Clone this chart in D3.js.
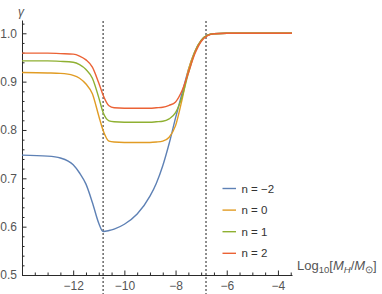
<!DOCTYPE html>
<html>
<head>
<meta charset="utf-8">
<script src="https://cdn.jsdelivr.net/npm/d3@7"></script>
<style>
  body { margin: 0; background: #fff; }
  svg { display: block; font-family: "Liberation Sans", Arial, sans-serif; }
  .axis text { fill: #555; font-size: 12px; font-family: "Liberation Sans", Arial, sans-serif; }
  .axis path, .axis line { stroke: #2a2a2a; }
</style>
</head>
<body>
<svg id="chart" width="382" height="294"></svg>
<script>
// log10 mass grid shared by every curve
const logM = [-14, -13, -12.5, -12, -11.75, -11.5, -11.25, -11, -10.83, -10.6, -10.4, -10, -9.5, -9,
  -8.75, -8.5, -8.25, -8, -7.75, -7.5, -7.25, -7, -6.75, -6.5, -6, -5, -4, -3.45];

const gammaNm2 = [0.748, 0.746, 0.742, 0.728, 0.711, 0.688, 0.650, 0.607, 0.590, 0.592, 0.595, 0.605, 0.626, 0.663,
  0.690, 0.726, 0.772, 0.825, 0.875, 0.924, 0.962, 0.985, 0.996, 0.999, 1.0, 1.0, 1.0, 1.0];
const gammaN0 = [0.919, 0.918, 0.917, 0.913, 0.907, 0.895, 0.875, 0.829, 0.799, 0.777, 0.775, 0.774, 0.774, 0.774,
  0.775, 0.777, 0.785, 0.809, 0.862, 0.924, 0.962, 0.985, 0.996, 0.999, 1.0, 1.0, 1.0, 1.0];
const gammaN1 = [0.943, 0.943, 0.942, 0.940, 0.935, 0.925, 0.907, 0.867, 0.836, 0.819, 0.817, 0.816, 0.816, 0.816,
  0.817, 0.818, 0.823, 0.836, 0.868, 0.917, 0.960, 0.985, 0.996, 0.999, 1.0, 1.0, 1.0, 1.0];
const gammaN2 = [0.959, 0.959, 0.958, 0.957, 0.953, 0.945, 0.930, 0.897, 0.872, 0.850, 0.846, 0.845, 0.845, 0.845,
  0.846, 0.847, 0.851, 0.858, 0.881, 0.918, 0.957, 0.983, 0.995, 0.999, 1.0, 1.0, 1.0, 1.0];

const seriesNames = ["n = \u22122", "n = 0", "n = 1", "n = 2"];
const seriesValues = [gammaNm2, gammaN0, gammaN1, gammaN2];
const seriesColors = ["#5E81B5", "#E19C24", "#8FB032", "#EB6235"];

const xMajor = [-12, -10, -8, -6, -4];
const yMajor = [0.5, 0.6, 0.7, 0.8, 0.9, 1.0];
const vLines = [-10.83, -6.81];

const svg = d3.select("#chart");

const x = d3.scaleLinear().domain([-14, -3.45]).range([22, 292]);
const y = d3.scaleLinear().domain([0.5, 1.0275]).range([275, 20]);

// 補助の点線
svg.selectAll(".vline")
  .data(vLines)
  .enter()
  .append("line")
  .attr("x1", (d) => x(d)).attr("x2", (d) => x(d))
  .attr("y1", 21).attr("y2", 294)
  .attr("stroke", "#5e5e5e")
  .attr("stroke-width", 1.4)
  .attr("stroke-dasharray", "2,2");

// minor ticks
const xMinor = d3.range(-14, -3.45, 0.5).filter((v) => !xMajor.includes(v));
const yMinor = d3.range(0.5, 1.03, 0.02).filter((v) => !yMajor.some((m) => Math.abs(m - v) < 1e-6));

svg.append("g").attr("class", "axis")
  .attr("transform", "translate(0,275)")
  .call(d3.axisBottom(x).tickValues(xMinor).tickSize(-2.5).tickSizeOuter(0).tickFormat(""))
  .call((g) => g.select(".domain").remove());

svg.append("g").attr("class", "axis")
  .attr("transform", "translate(22,0)")
  .call(d3.axisLeft(y).tickValues(yMinor).tickSize(-2.5).tickSizeOuter(0).tickFormat(""))
  .call((g) => g.select(".domain").remove());

// major axes
svg.append("g").attr("class", "axis")
  .attr("transform", "translate(0,275)")
  .call(d3.axisBottom(x).tickValues(xMajor).tickSize(-4.5).tickSizeOuter(0).tickPadding(6)
    .tickFormat((d) => String(d).replace("-", "\u2212")));

svg.append("g").attr("class", "axis")
  .attr("transform", "translate(22,0)")
  .call(d3.axisLeft(y).tickValues(yMajor).tickSize(-4.5).tickSizeOuter(0).tickPadding(5)
    .tickFormat(d3.format(".1f")));

// curves
const line = d3.line()
  .x((d) => x(d[0]))
  .y((d) => y(d[1]))
  .curve(d3.curveMonotoneX);

seriesValues.forEach((vals, i) => {
  svg.append("path")
    .datum(logM.map((m, j) => [m, vals[j]]))
    .attr("fill", "none")
    .attr("stroke", seriesColors[i])
    .attr("stroke-width", 1.4)
    .attr("d", line);
});

// axis labels
svg.append("text")
  .attr("x", 21).attr("y", 16)
  .attr("text-anchor", "middle")
  .attr("font-size", 12).attr("font-style", "italic")
  .attr("fill", "#555")
  .text("\u03b3");

const xl = svg.append("text")
  .attr("x", 297).attr("y", 270)
  .attr("font-size", 13).attr("fill", "#555");
xl.append("tspan").text("Log");
xl.append("tspan").attr("font-size", 9.5).attr("dy", 3).text("10");
xl.append("tspan").attr("dy", -3).text("[");
xl.append("tspan").attr("font-style", "italic").text("M");
xl.append("tspan").attr("font-size", 9.5).attr("font-style", "italic").attr("dy", 3).text("H");
xl.append("tspan").attr("dy", -3).text("/");
xl.append("tspan").attr("font-style", "italic").text("M");
xl.append("tspan").attr("font-size", 9.5).attr("dy", 3).text("\u2299");
xl.append("tspan").attr("dy", -3).text("]");

// legend
const legend = svg.selectAll(".legend")
  .data(seriesNames)
  .enter()
  .append("g")
  .attr("transform", (d, i) => `translate(222.5,${188.5 + i * 21.6})`);

legend.append("line")
  .attr("x1", 0).attr("x2", 13.5)
  .attr("stroke", (d, i) => seriesColors[i])
  .attr("stroke-width", 1.4);

legend.append("text")
  .attr("x", 19).attr("y", 4)
  .attr("font-size", 11.5)
  .attr("fill", "#333")
  .text((d) => d);
</script>
</body>
</html>
